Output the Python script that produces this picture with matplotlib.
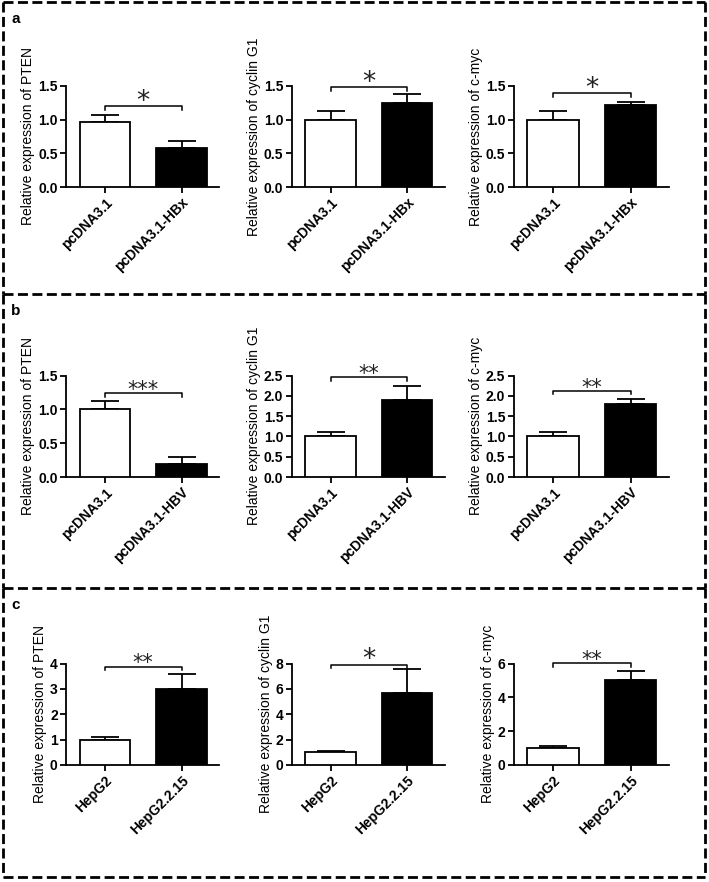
"""Relative expression bar panels (a/b/c) with dashed panel boxes."""

import matplotlib

matplotlib.use("Agg")
import matplotlib.pyplot as plt
from matplotlib.lines import Line2D
from matplotlib.transforms import offset_copy

# ---- data ---------------------------------------------------------------
GENES = ["PTEN", "cyclin G1", "c-myc"]
PANEL_LETTERS = ["a", "b", "c"]

GROUPS_A = ["pcDNA3.1", "pcDNA3.1-HBx"]
GROUPS_B = ["pcDNA3.1", "pcDNA3.1-HBV"]
GROUPS_C = ["HepG2", "HepG2.2.15"]

# mean values per gene: [control, treated]
MEANS_A = [[0.97, 0.58], [1.00, 1.24], [1.00, 1.21]]
ERRS_A = [[0.09, 0.10], [0.12, 0.14], [0.12, 0.05]]
MEANS_B = [[1.00, 0.19], [1.00, 1.89], [1.00, 1.81]]
ERRS_B = [[0.12, 0.10], [0.12, 0.34], [0.11, 0.11]]
MEANS_C = [[1.00, 3.01], [1.00, 5.70], [1.02, 5.02]]
ERRS_C = [[0.12, 0.58], [0.12, 1.83], [0.12, 0.55]]

# y axis ranges (max, step)
YMAX_A = [1.5, 1.5, 1.5]
YSTEP_A = [0.5, 0.5, 0.5]
YMAX_B = [1.5, 2.5, 2.5]
YSTEP_B = [0.5, 0.5, 0.5]
YMAX_C = [4, 8, 6]
YSTEP_C = [1, 2, 2]

# significance bracket level and stars
BRACKET_A = [1.20, 1.48, 1.39]
BRACKET_B = [1.24, 2.46, 2.12]
BRACKET_C = [3.88, 7.92, 6.02]
STARS_A = ["*", "*", "*"]
STARS_B = ["***", "**", "**"]
STARS_C = ["**", "*", "**"]

# ---- layout (pixels of the 709x882 canvas) ------------------------------
W, H = 709, 882
COL_LEFT = [66.0, 291.5, 513.5]
COL_WIDTH = [153.0, 153.0, 155.0]
ROW_TOP = [85.7, 375.5, 663.5]
AX_HEIGHT = 101.5
BOX_X = (3, 705)
BOX_Y = [2, 294, 588, 877]
LW = 1.3
DASH = dict(color="black", linewidth=2.0, linestyle=(0, (3.6, 1.6)))

plt.rcParams["font.family"] = ["Liberation Sans", "DejaVu Sans"]


def fig_rect(left: float, top: float, width: float, height: float) -> list[float]:
    return [left / W, 1 - (top + height) / H, width / W, height / H]


def fmt_tick(value: float, step: float) -> str:
    if float(step).is_integer():
        return f"{int(round(value))}"
    return f"{value:.1f}"


def draw_bar_panel(ax, groups, means, errs, gene, ymax, ystep, bracket, stars):
    x = [0, 1]
    ax.bar(x, means, width=0.66, color=["white", "black"], edgecolor="black",
           linewidth=LW, zorder=3)
    ax.errorbar(x, means, yerr=[[0, 0], errs], fmt="none", ecolor="black",
                elinewidth=LW, capsize=10, capthick=LW, zorder=2)

    ax.set_xlim(-0.51, 1.49)
    ax.set_ylim(0, ymax)
    n_ticks = int(round(ymax / ystep)) + 1
    ticks = [i * ystep for i in range(n_ticks)]
    ax.set_yticks(ticks)
    ax.set_yticklabels([fmt_tick(t, ystep) for t in ticks], fontweight="bold")
    ax.set_xticks(x)
    ax.set_xticklabels(groups, rotation=45, ha="right", va="top",
                       rotation_mode="anchor", fontweight="bold", fontsize=10)
    for spine in ("top", "right"):
        ax.spines[spine].set_visible(False)
    for spine in ("left", "bottom"):
        ax.spines[spine].set_linewidth(LW)
    ax.tick_params(direction="out", length=4, width=LW, labelsize=10, pad=2)
    ax.set_ylabel(f"Relative expression of {gene}", fontsize=10, labelpad=2)

    drop = 0.035 * ymax
    ax.plot([0, 0, 1, 1], [bracket - drop, bracket, bracket, bracket - drop],
            color="black", linewidth=1.1, clip_on=False)
    size = 19 if len(stars) == 1 else 15
    trans = offset_copy(ax.transData, fig=ax.figure, x=0, y=-2, units="points")
    ax.text(0.5, bracket, stars, ha="center", va="baseline", fontsize=size,
            family="DejaVu Sans", color="#222222", transform=trans, clip_on=False)


fig = plt.figure(figsize=(W / 100, H / 100), dpi=100)

panels = [
    (GROUPS_A, MEANS_A, ERRS_A, YMAX_A, YSTEP_A, BRACKET_A, STARS_A),
    (GROUPS_B, MEANS_B, ERRS_B, YMAX_B, YSTEP_B, BRACKET_B, STARS_B),
    (GROUPS_C, MEANS_C, ERRS_C, YMAX_C, YSTEP_C, BRACKET_C, STARS_C),
]

for row, (groups, means, errs, ymaxs, ysteps, brackets, stars) in enumerate(panels):
    for col, gene in enumerate(GENES):
        ax = fig.add_axes(fig_rect(COL_LEFT[col], ROW_TOP[row], COL_WIDTH[col], AX_HEIGHT))
        draw_bar_panel(ax, groups, means[col], errs[col], gene,
                       ymaxs[col], ysteps[col], brackets[col], stars[col])

# dashed panel boxes: shared horizontal edges are drawn once
x0, x1 = BOX_X[0] / W, BOX_X[1] / W
for yy in BOX_Y:
    fig.add_artist(Line2D([x0, x1], [1 - yy / H] * 2, transform=fig.transFigure, **DASH))
for letter, top, bottom in zip(PANEL_LETTERS, BOX_Y[:-1], BOX_Y[1:]):
    for xx in (x0, x1):
        fig.add_artist(Line2D([xx, xx], [1 - top / H, 1 - bottom / H],
                              transform=fig.transFigure, **DASH))
    fig.text(11 / W, 1 - (top + 10) / H, letter, ha="left", va="top",
             fontsize=11, fontweight="bold")

fig.savefig("out.png", dpi=100)
plt.close(fig)
